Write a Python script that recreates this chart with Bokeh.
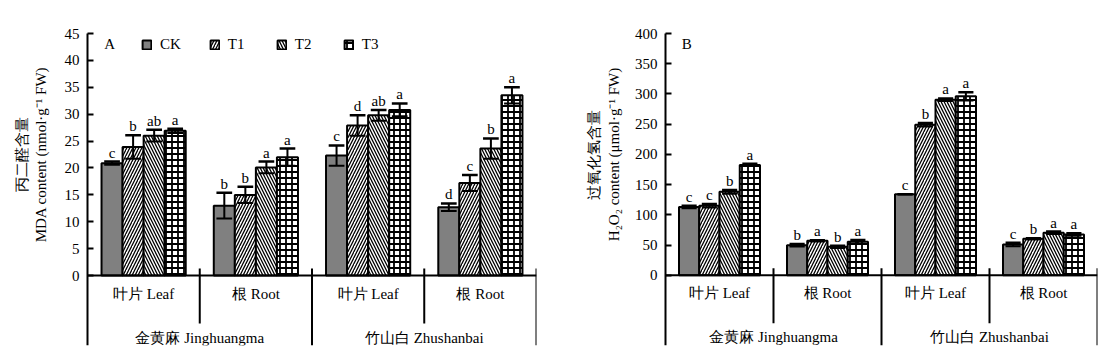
import math
from bokeh.plotting import figure
from bokeh.models import ColumnDataSource, FixedTicker, Legend, LegendItem, Label
from bokeh.layouts import row
from bokeh.embed import file_html
from bokeh.resources import INLINE
from bokeh.core.properties import value

tissues = ["叶片 Leaf", "根 Root", "叶片 Leaf", "根 Root"]
cultivars = ["金黄麻 Jinghuangma", "竹山白 Zhushanbai"]
treatments = ["CK", "T1", "T2", "T3"]

# Panel A: MDA content
mda_ck = [20.9, 13.0, 22.3, 12.7]
mda_t1 = [23.9, 15.0, 27.9, 17.2]
mda_t2 = [26.0, 20.1, 29.8, 23.6]
mda_t3 = [26.9, 22.0, 30.8, 33.5]
mda_ck_err = [0.3, 2.4, 1.9, 0.7]
mda_t1_err = [2.2, 1.5, 1.9, 1.5]
mda_t2_err = [1.1, 1.1, 1.0, 1.9]
mda_t3_err = [0.4, 1.6, 1.2, 1.5]
mda_ck_sig = ["c", "b", "c", "d"]
mda_t1_sig = ["b", "b", "d", "c"]
mda_t2_sig = ["ab", "a", "ab", "b"]
mda_t3_sig = ["a", "a", "a", "a"]
mda_ticks = [0, 5, 10, 15, 20, 25, 30, 35, 40, 45]
mda_title = ["丙二醛含量", "MDA content (nmol·g⁻¹ FW)"]

# Panel B: H2O2 content
h2o2_ck = [113.0, 49.8, 134.0, 51.0]
h2o2_t1 = [115.0, 57.0, 249.0, 60.3]
h2o2_t2 = [138.0, 47.0, 290.5, 70.3]
h2o2_t3 = [182.6, 55.3, 296.0, 67.5]
h2o2_ck_err = [2.0, 2.0, 0.0, 3.0]
h2o2_t1_err = [3.0, 1.0, 3.0, 1.0]
h2o2_t2_err = [3.0, 2.0, 2.0, 2.0]
h2o2_t3_err = [2.0, 3.0, 7.0, 2.0]
h2o2_ck_sig = ["c", "b", "c", "c"]
h2o2_t1_sig = ["c", "a", "b", "b"]
h2o2_t2_sig = ["b", "b", "a", "a"]
h2o2_t3_sig = ["a", "a", "a", "a"]
h2o2_ticks = [0, 50, 100, 150, 200, 250, 300, 350, 400]
h2o2_title = ["过氧化氢含量", "H₂O₂ content (μmol·g⁻¹ FW)"]

FONT = "Liberation Serif"
FS = "15px"
BAR_W = 0.1875
STYLES = {
    "CK": dict(fill_color="#808080", hatch_pattern=None),
    "T1": dict(fill_color="white", hatch_pattern="right_diagonal_line", hatch_scale=6, hatch_weight=1.3),
    "T2": dict(fill_color="white", hatch_pattern="left_diagonal_line", hatch_scale=6, hatch_weight=1.3),
    "T3": dict(fill_color="white", hatch_pattern="cross", hatch_scale=6, hatch_weight=1.8),
}

AXIS_H = 312      # pixels from the top tick to the bottom of the category area
PAD = 10          # extra frame room above the top tick so its label is not clipped
TOP = 33 - PAD
BL = 5


def make_panel(tag, means, errs, sigs, ticks, ymin, ylabel_top, title, width,
               axis_px, data_px, br, title_px, show_legend):
    ppu = AXIS_H / (ylabel_top - ymin)      # pixels per y unit
    yend = ylabel_top + PAD / ppu
    xpu = data_px / 4.0                     # pixels per x unit
    xstart = -axis_px / xpu
    p = figure(width=width, height=TOP + AXIS_H + PAD + 5, x_range=(xstart, 4),
               y_range=(ymin, yend),
               output_backend="svg", toolbar_location=None, x_axis_location=None,
               min_border_left=BL, min_border_right=br, min_border_top=TOP,
               min_border_bottom=5)
    p.grid.visible = False
    p.outline_line_color = None
    ax = p.yaxis[0]
    ax.fixed_location = 0
    ax.bounds = (ymin, ylabel_top)
    ax.ticker = FixedTicker(ticks=ticks)
    ax.minor_tick_line_color = None
    ax.major_tick_in = 6
    ax.major_tick_out = 0
    ax.major_tick_line_width = 2
    ax.axis_line_width = 2
    ax.major_label_standoff = 8
    ax.major_label_text_font = FONT
    ax.major_label_text_font_size = FS
    ax.major_label_text_color = "black"

    centers = [i + 0.5 for i in range(4)]
    renderers = []
    for k, t in enumerate(treatments):
        off = (k - 1.5) * BAR_W
        xs = [c + off for c in centers]
        top = means[t]
        er = errs[t]
        src = ColumnDataSource(dict(x=xs, top=top, lo=[m - e for m, e in zip(top, er)],
                                    hi=[m + e for m, e in zip(top, er)],
                                    cl=[x - 0.07 for x in xs], cr=[x + 0.07 for x in xs],
                                    sig=sigs[t]))
        st = STYLES[t]
        r = p.vbar(x="x", top="top", bottom=0, width=BAR_W, source=src,
                   line_color="black", line_width=2, hatch_color="black", **st)
        renderers.append(r)
        p.segment(x0="x", y0="lo", x1="x", y1="hi", source=src, line_color="black", line_width=2)
        p.segment(x0="cl", y0="hi", x1="cr", y1="hi", source=src, line_color="black", line_width=2.5)
        p.segment(x0="cl", y0="lo", x1="cr", y1="lo", source=src, line_color="black", line_width=2)
        p.text(x="x", y="hi", text="sig", source=src, text_font=value(FONT),
               text_font_size=FS, text_align="center", text_baseline="bottom",
               y_offset=-1, text_color="black")

    # baseline and separators
    p.segment(x0=[0], y0=[0], x1=[4], y1=[0], line_color="black", line_width=2)
    sep_x = [1, 2, 3, 4]
    sep_top = [7 / ppu] * 4
    sep_bot = [-48 / ppu, ymin, -48 / ppu, ymin]
    p.segment(x0=sep_x, y0=sep_top, x1=sep_x, y1=sep_bot, line_color="black", line_width=2)

    p.text(x=centers, y=[-18 / ppu] * 4, text=tissues, text_font=value(FONT),
           text_font_size=FS, text_align="center", text_baseline="middle", text_color="black")
    p.text(x=[1, 3], y=[-62 / ppu] * 2, text=cultivars, text_font=value(FONT),
           text_font_size=FS, text_align="center", text_baseline="middle", text_color="black")

    # rotated two-line y-axis title
    ymid = ylabel_top - (154 - 33) / ppu
    p.text(x=[-title_px[0] / xpu, -title_px[1] / xpu], y=[ymid, ymid], text=title,
           angle=math.pi / 2, text_font=value(FONT), text_font_size=FS,
           text_align="center", text_baseline="middle", text_color="black")

    p.add_layout(Label(x=0.15, y=ylabel_top - 10 / ppu, text=tag, text_font=FONT,
                       text_font_size=FS, text_align="left", text_baseline="middle",
                       text_color="black"))

    if show_legend:
        items = [LegendItem(label=t, renderers=[r]) for t, r in zip(treatments, renderers)]
        leg = Legend(items=items, orientation="horizontal",
                     location=(axis_px + 54, AXIS_H - 9 - 11),
                     glyph_width=11, glyph_height=11, label_height=11, label_standoff=8,
                     spacing=28, padding=0, margin=0, border_line_color=None,
                     background_fill_alpha=0, label_text_font=FONT, label_text_font_size=FS,
                     label_text_color="black")
        p.add_layout(leg)
    return p


pA = make_panel(
    "A",
    {"CK": mda_ck, "T1": mda_t1, "T2": mda_t2, "T3": mda_t3},
    {"CK": mda_ck_err, "T1": mda_t1_err, "T2": mda_t2_err, "T3": mda_t3_err},
    {"CK": mda_ck_sig, "T1": mda_t1_sig, "T2": mda_t2_sig, "T3": mda_t3_sig},
    mda_ticks, -13.0, 45.0, mda_title, 564, 82, 449, 28, (66, 47), True)

pB = make_panel(
    "B",
    {"CK": h2o2_ck, "T1": h2o2_t1, "T2": h2o2_t2, "T3": h2o2_t3},
    {"CK": h2o2_ck_err, "T1": h2o2_t1_err, "T2": h2o2_t2_err, "T3": h2o2_t3_err},
    {"CK": h2o2_ck_sig, "T1": h2o2_t1_sig, "T2": h2o2_t2_sig, "T3": h2o2_t3_sig},
    h2o2_ticks, -116.2, 400.0, h2o2_title, 538, 96, 432, 5, (72, 52), False)

layout = row(pA, pB)
open("out.html", "w").write(file_html(layout, INLINE))
